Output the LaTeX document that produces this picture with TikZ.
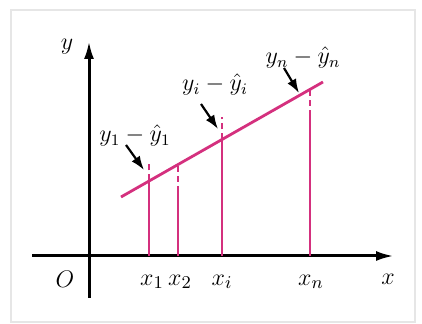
\documentclass[tikz,border=0pt]{standalone}
\usepackage{fontspec}
\setmainfont{Liberation Serif}
\usetikzlibrary{arrows.meta}
\definecolor{fitPink}{HTML}{D4307E}
\definecolor{frameGray}{HTML}{E6E6E6}

\begin{document}
\begin{tikzpicture}[x=0.5pt,y=-0.5pt,
    axis/.style={line width=1.5pt, -{Latex[length=9pt,width=5pt]}},
    fitline/.style={fitPink, line width=1.4pt},
    resid/.style={fitPink, line width=1.4pt, dash pattern=on 3pt off 2pt},
    pointer/.style={line width=1.1pt, -{Latex[length=7pt,width=5pt]}},
    lbl/.style={font=\fontsize{13}{15}\selectfont, inner sep=1pt},
    rlbl/.style={font=\fontsize{11.5}{14}\selectfont, inner sep=1pt}
  ]
    \useasboundingbox (0,0) rectangle (422,324);
    \draw[frameGray, line width=1pt] (11,10) rectangle (415,322);

    % axes
    \coordinate (xs) at (32,256);
    \coordinate (xe) at (394,256);
    \coordinate (ys) at (89,298);
    \coordinate (ye) at (89,41);
    \draw[axis] (xs) -- (xe);
    \draw[axis] (ys) -- (ye);
    \node[lbl] (ylab) at (67,47) {$y$};
    \node[lbl] (xlab) at (388,279) {$x$};
    \node[lbl] (orig) at (65,279) {$O$};

    % fitted line
    \coordinate (la) at (121,197);
    \coordinate (lb) at (323,82);
    \draw[fitline] (la) -- (lb);

    % x positions
    \coordinate (a1) at (149,256);
    \coordinate (a2) at (178,256);
    \coordinate (ai) at (222,256);
    \coordinate (an) at (310,256);
    % points on the line
    \coordinate (f1) at (149,180.5);
    \coordinate (f2) at (178,164.5);
    \coordinate (fi) at (222,139.5);
    \coordinate (fn) at (310,89.5);
    % observed points
    \coordinate (p1) at (149,162);
    \coordinate (p2) at (178,192);
    \coordinate (pi) at (222,117);
    \coordinate (pn) at (310,116);

    \draw[fitline] (a1) -- (f1);
    \draw[resid] (f1) -- (p1);
    \draw[fitline] (a2) -- (p2);
    \draw[resid] (p2) -- (f2);
    \draw[fitline] (ai) -- (fi);
    \draw[resid] (fi) -- (pi);
    \draw[fitline] (an) -- (pn);
    \draw[resid] (pn) -- (fn);

    \node[lbl] (x1) at (152,282) {$x_1$};
    \node[lbl] (x2) at (180,282) {$x_2$};
    \node[lbl] (xi) at (222,282) {$x_i$};
    \node[lbl] (xn) at (311,282) {$x_n$};

    % residual labels
    \node[rlbl] (r1) at (135,136) {$y_1-\hat{y}_1$};
    \node[rlbl] (ri) at (215,85) {$y_i-\hat{y}_i$};
    \node[rlbl] (rn) at (303,58) {$y_n-\hat{y}_n$};
    \coordinate (s1) at (126,145);
    \coordinate (si) at (201,104);
    \coordinate (sn) at (284,68);
    \coordinate (t1) at (144,170);
    \coordinate (ti) at (218,129);
    \coordinate (tn) at (299,93);
    \draw[pointer] (s1) -- (t1);
    \draw[pointer] (si) -- (ti);
    \draw[pointer] (sn) -- (tn);
  \end{tikzpicture}
\end{document}
